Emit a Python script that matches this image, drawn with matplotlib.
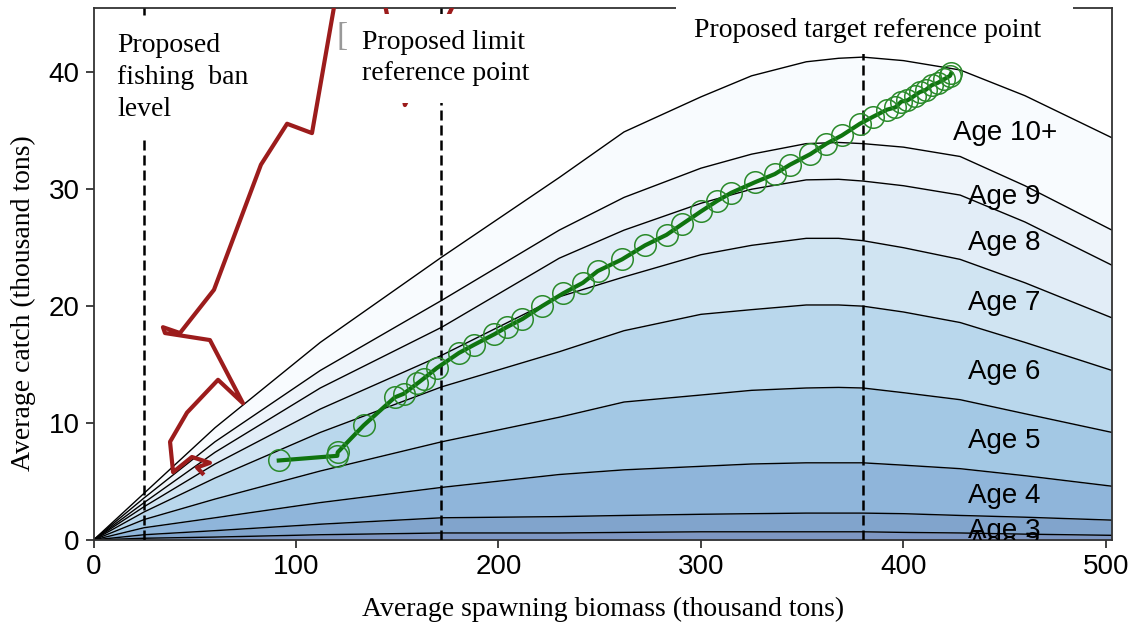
import numpy as np
import matplotlib
matplotlib.use("Agg")
import matplotlib.pyplot as plt

# stacked catch-at-age boundaries (cumulative)
ssb_grid = [0, 25, 60, 112, 172, 230, 262, 300, 325, 352, 368, 380, 400, 428, 460, 503]
cum_age2 = [0, 0.15, 0.25, 0.45, 0.6, 0.6, 0.65, 0.7, 0.7, 0.7, 0.7, 0.7, 0.65, 0.6, 0.5, 0.4]
cum_age3 = [0, 0.45, 0.8, 1.35, 1.9, 2.0, 2.1, 2.2, 2.25, 2.3, 2.3, 2.3, 2.25, 2.1, 1.95, 1.7]
cum_age4 = [0, 1.05, 1.9, 3.2, 4.5, 5.6, 6.0, 6.3, 6.5, 6.6, 6.6, 6.6, 6.4, 6.1, 5.5, 4.6]
cum_age5 = [0, 1.75, 3.5, 5.9, 8.4, 10.5, 11.8, 12.4, 12.8, 13.0, 13.05, 13.0, 12.6, 12.0, 10.8, 9.2]
cum_age6 = [0, 2.4, 5.3, 9.2, 13.1, 16.1, 17.9, 19.3, 19.7, 20.1, 20.1, 20.0, 19.5, 18.6, 16.9, 14.5]
cum_age7 = [0, 2.85, 6.5, 11.2, 15.8, 20.8, 22.5, 24.4, 25.2, 25.8, 25.8, 25.6, 25.0, 24.0, 22.0, 19.0]
cum_age8 = [0, 3.2, 7.5, 13.0, 18.2, 24.1, 26.5, 28.8, 30.0, 30.8, 30.85, 30.7, 30.3, 29.5, 27.2, 23.5]
cum_age9 = [0, 3.6, 8.4, 14.5, 20.5, 26.5, 29.3, 31.8, 33.0, 33.9, 34.0, 33.9, 33.6, 32.8, 30.3, 26.5]
cum_age10 = [0, 4.0, 9.6, 16.9, 24.2, 31.0, 34.9, 37.9, 39.7, 40.9, 41.2, 41.3, 41.0, 40.2, 38.0, 34.4]

band_names = ["Age 2", "Age 3", "Age 4", "Age 5", "Age 6", "Age 7", "Age 8", "Age 9", "Age 10+"]
band_colors = ["#7e97c3", "#81a4cc", "#8fb5da", "#a3c8e4", "#b9d7ec", "#d0e4f2",
               "#e2edf7", "#eef4fa", "#f8fbfe"]
label_x = 450
label_y = [-0.3, 0.8, 3.8, 8.5, 14.4, 20.3, 25.4, 29.3, 34.8]

# historical trajectory (red)
red_ssb = [53.8, 51.1, 57.5, 48.6, 39.3, 37.8, 46.2, 61.5, 73.8, 57.5, 35.3, 34.3,
           42.7, 59.5, 82.7, 95.6, 107.9, 118.8, 130.0, 153.8, 212.0]
red_catch = [5.7, 6.2, 6.6, 7.1, 5.8, 8.4, 10.9, 13.7, 11.7, 17.1, 17.7, 18.2,
             17.7, 21.4, 32.1, 35.6, 34.8, 45.6, 58.0, 37.2, 58.0]

# projected trajectory (green)
green_ssb = [91.5, 120.4, 120.6, 133.4, 148.8, 153.1, 160.0, 163.0, 169.5, 180.5,
             188.0, 198.0, 204.0, 211.8, 221.5, 232.0, 241.7, 249.0, 261.0, 272.4,
             283.0, 290.6, 300.0, 308.0, 315.0, 326.7, 336.5, 344.0, 354.0, 362.0,
             369.6, 378.5, 385.0, 391.8, 396.0, 399.0, 402.0, 405.5, 408.0, 411.0,
             414.0, 417.0, 420.0, 423.0, 423.5]
green_catch = [6.8, 7.2, 7.5, 9.8, 12.2, 12.5, 13.4, 13.8, 14.7, 16.0,
               16.7, 17.6, 18.2, 18.9, 20.0, 21.1, 22.0, 23.0, 24.0, 25.2,
               26.1, 27.0, 28.1, 29.0, 29.7, 30.6, 31.3, 32.1, 33.0, 33.9,
               34.6, 35.6, 36.2, 36.8, 37.0, 37.5, 37.6, 38.0, 38.3, 38.5,
               38.9, 39.1, 39.4, 39.7, 39.9]

ref_points = [25, 171.5, 380]

sans = "Liberation Sans"
serif = "Liberation Serif"

fig = plt.figure(figsize=(11.29, 6.34), dpi=100)
ax = fig.add_axes([93.5 / 1129, 1 - 540 / 634, (1112 - 93.5) / 1129, 532 / 634])

bounds = [np.zeros(len(ssb_grid)), cum_age2, cum_age3, cum_age4, cum_age5,
          cum_age6, cum_age7, cum_age8, cum_age9, cum_age10]
for i in range(len(band_names)):
    ax.fill_between(ssb_grid, bounds[i], bounds[i + 1], color=band_colors[i],
                    lw=0, zorder=1)
    ax.plot(ssb_grid, bounds[i + 1], color="black", lw=1.0, zorder=2)
    ax.text(label_x, label_y[i], band_names[i], ha="center", va="center",
            fontsize=20, family=sans, zorder=6, clip_on=True)

for x in ref_points:
    ax.axvline(x, color="black", lw=1.8, ls=(0, (4, 2)), zorder=3)

ax.plot(red_ssb, red_catch, color="#9c1c1c", lw=3, zorder=4, solid_joinstyle="round")
ax.plot(green_ssb, green_catch, color="#0f740f", lw=3, zorder=5,
        marker="o", ms=15.5, mfc="none", mec="#2a8a2a", mew=1.1)

ax.text(11.6, 39.55, "Proposed\nfishing  ban\nlevel", ha="left", va="center",
        fontsize=20, family=serif, linespacing=1.36, zorder=10,
        bbox=dict(boxstyle="square,pad=0.5", fc="white", ec="none"))
ax.text(132.6, 41.2, "Proposed limit\nreference point", ha="left", va="center",
        fontsize=20, family=serif, linespacing=1.32, zorder=10,
        bbox=dict(boxstyle="square,pad=0.6", fc="white", ec="none"))
ax.text(385.7, 43.6, " Proposed target reference point   ", ha="center", va="center",
        fontsize=20, family=serif, zorder=10,
        bbox=dict(boxstyle="square,pad=0.4", fc="white", ec="none"))
ax.text(122.7, 43.0, "[", ha="center", va="center", fontsize=24, family=serif,
        color="#999999", zorder=11)

ax.set_xlim(0, 503)
ax.set_ylim(0, 45.5)
ax.set_xticks([0, 100, 200, 300, 400, 500])
ax.set_yticks([0, 10, 20, 30, 40])
ax.tick_params(direction="out", length=6, width=1.3, labelsize=20, pad=4,
               color="#333333")
for lab in ax.get_xticklabels() + ax.get_yticklabels():
    lab.set_family(sans)
for s in ax.spines.values():
    s.set_color("#333333")
    s.set_linewidth(1.3)

ax.set_xlabel("Average spawning biomass (thousand tons)", fontsize=20,
              family=serif, labelpad=12)
ax.set_ylabel("Average catch (thousand tons)", fontsize=20, family=serif)
ax.yaxis.set_label_coords(-0.056, 0.445)

fig.savefig("out.png", dpi=100)
